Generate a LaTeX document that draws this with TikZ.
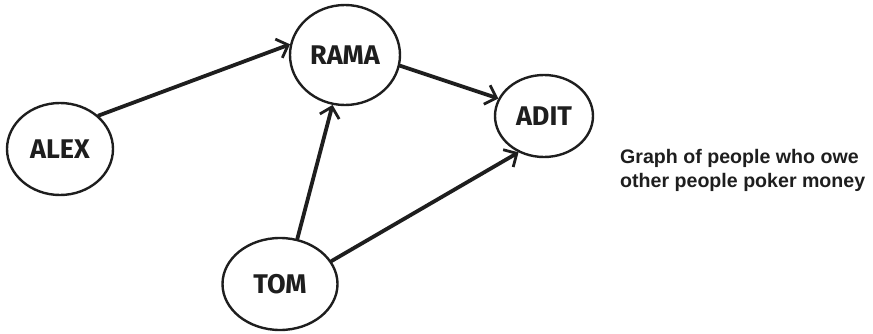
\documentclass[tikz,border=0pt]{standalone}
\usepackage{fontspec}
\setmainfont{Liberation Sans}
\newfontfamily\labelfont{Fira Sans}
\usetikzlibrary{shapes.geometric,arrows.meta}
\definecolor{ink}{HTML}{1E1E1E}
\begin{document}
\begin{tikzpicture}[x=1pt,y=1pt,
  person/.style={ellipse, draw=ink, text=ink, line width=2.4pt, inner sep=0pt,
    font=\labelfont\bfseries\fontsize{27}{27}\selectfont},
  owes/.style={draw=ink, line width=3.8pt, line cap=round,
    -{Straight Barb[length=10pt,width=20pt,line width=2.8pt]}},
  captionstyle/.style={anchor=base west, align=left, inner sep=0pt, text=ink,
    font=\bfseries\fontsize{19.6}{24}\selectfont},
]
\useasboundingbox (0,0) rectangle (873,333);
\node[person, minimum width=106pt, minimum height=92pt] (alex) at (60,184) {ALEX};
\node[person, minimum width=110pt, minimum height=100pt] (rama) at (345,278) {RAMA};
\node[person, minimum width=98pt, minimum height=82pt] (adit) at (544,217) {ADIT};
\node[person, minimum width=115pt, minimum height=92pt] (tom) at (280,49) {TOM};

\draw[owes] (alex.41) -- (rama.169);
\draw[owes] (rama.349) -- (adit.159);
\draw[owes] (tom.69) -- (rama.256);
\draw[owes] (tom.24) -- (adit.235);

\node[captionstyle] (caption) at (620,146) {Graph of people who owe\\other people poker money};
\end{tikzpicture}
\end{document}
